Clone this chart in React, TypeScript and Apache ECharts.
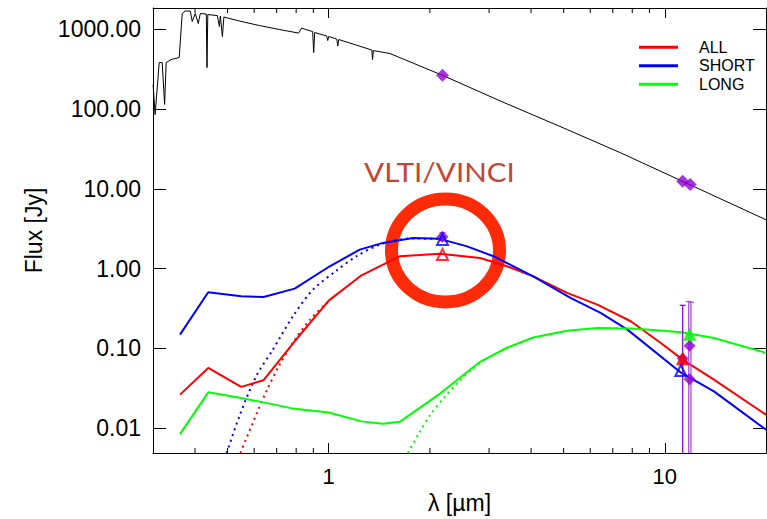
import React, { useEffect, useRef } from "react";
import * as echarts from "echarts";

// Stellar photosphere model (wavelength in µm, flux in Jy)
const photosphere: [number, number][] = [
  [0.3002, 202], [0.3044, 85], [0.313, 381], [0.3195, 381], [0.3249, 114], [0.3283, 381],
  [0.3398, 416], [0.359, 441], [0.3665, 1569], [0.3741, 1686], [0.3873, 1686], [0.3926, 1245],
  [0.4008, 1569], [0.4091, 1175], [0.4148, 1569], [0.4322, 1546], [0.4343, 330], [0.4367, 1524],
  [0.4663, 1480], [0.4727, 1078], [0.476, 1459], [0.4826, 808], [0.4876, 1418], [0.5423, 1263],
  [0.6223, 1109], [0.7141, 988], [0.8137, 893], [0.8308, 1032], [0.8535, 988], [0.8958, 933],
  [0.9021, 509], [0.9083, 907], [0.9864, 820], [0.9931, 720], [1.0, 808], [1.0565, 751],
  [1.0638, 614], [1.0712, 741], [1.344, 547], [1.35, 416], [1.358, 539], [1.521, 495],
  [2.189, 262], [3.239, 126], [5.125, 55.2], [7.39, 28.2], [11.29, 12.4], [20.16, 4.03],
];

// Model fits: total emission
const allFit: [number, number][] = [
  [0.361, 0.0264], [0.438, 0.057], [0.549, 0.033], [0.64, 0.04], [0.792, 0.123], [1.0, 0.397],
  [1.252, 0.824], [1.63, 1.43], [2.14, 1.54], [2.82, 1.36], [3.39, 1.07], [4.06, 0.8],
  [5.12, 0.496], [6.3, 0.354], [7.92, 0.219], [9.73, 0.117], [11.3, 0.0724], [14.0, 0.0406],
  [20.0, 0.0148],
];
const shortFit: [number, number][] = [
  [0.361, 0.149], [0.438, 0.505], [0.549, 0.45], [0.64, 0.442], [0.792, 0.561], [1.007, 1.07],
  [1.237, 1.73], [1.45, 2.1], [1.78, 2.42], [2.14, 2.36], [2.58, 1.9], [3.09, 1.43],
  [4.06, 0.8], [5.24, 0.43], [6.44, 0.279], [7.74, 0.172], [11.2, 0.0493], [14.0, 0.029],
  [20.0, 0.0096],
];
const longFit: [number, number][] = [
  [0.361, 0.00844], [0.438, 0.0282], [0.549, 0.0239], [0.64, 0.0211], [0.792, 0.0175],
  [1.0, 0.0158], [1.252, 0.0122], [1.45, 0.0114], [1.63, 0.0121], [2.14, 0.027], [2.82, 0.068],
  [3.39, 0.102], [4.06, 0.137], [5.12, 0.167], [6.3, 0.18], [7.92, 0.178], [9.73, 0.168],
  [11.3, 0.158], [14.0, 0.135], [20.0, 0.088],
];

// Dust-only components (dotted)
const allDust: [number, number][] = [
  [0.546, 0.0049], [0.594, 0.0116], [0.652, 0.029], [0.714, 0.0626], [0.782, 0.118],
  [0.88, 0.23], [1.0, 0.39],
];
const shortDust: [number, number][] = [
  [0.497, 0.0049], [0.542, 0.0141], [0.608, 0.0447], [0.682, 0.0966], [0.782, 0.252],
  [0.898, 0.546], [1.054, 0.944], [1.21, 1.43], [1.42, 2.0], [1.74, 2.38], [2.14, 2.36],
];
const longDust: [number, number][] = [
  [1.72, 0.0049], [1.85, 0.0085], [2.0, 0.0145], [2.2, 0.024], [2.45, 0.039], [2.7, 0.057],
  [2.9, 0.072],
];

// Photometry
const modelPhot: [number, number][] = [[2.18, 265], [11.3, 12.4], [11.9, 11.3]];
const measured: [number, number][] = [[2.18, 2.5], [11.3, 0.075], [11.85, 0.108], [11.85, 0.041]];
const errorBars: [number, number, number][] = [
  [2.18, 2.25, 2.8], [11.3, 0.001, 0.347], [11.78, 0.001, 0.386], [11.96, 0.001, 0.38],
];
const errorBarColors = ["#8a10d0", "#8a10d0", "#a650e2", "#a650e2"];
const allPoints: [number, number][] = [[2.18, 1.5], [11.3, 0.074]];
const shortPoints: [number, number][] = [[2.18, 2.31], [11.16, 0.053]];
const longPoints: [number, number][] = [[11.85, 0.149]];

const xMinorTicks = [0.4, 0.5, 0.6, 0.7, 0.8, 0.9, 2, 3, 4, 5, 6, 7, 8, 9];
const legendNames = ["ALL", "SHORT", "LONG"];

const RED = "#ff0000";
const BLUE = "#0000ff";
const GREEN = "#00ff00";
const PURPLE = "#9000d4";
const FONT = '"Liberation Sans", Arial, Helvetica, sans-serif';

const X_MIN = 0.3;
const X_MAX = 20;
const Y_MIN = 0.0049;
const Y_MAX = 1840;

const axisLine = { show: true, onZero: false, lineStyle: { color: "#000", width: 1 } };

function fitLine(name: string, data: [number, number][], color: string) {
  return {
    name, type: "line", data, showSymbol: false, symbol: "none", clip: true, z: 3,
    itemStyle: { color }, lineStyle: { color, width: 2 },
  };
}
function dustLine(name: string, data: [number, number][], color: string) {
  return {
    name, type: "line", data, showSymbol: false, symbol: "none", clip: true, z: 3, smooth: 0.3,
    itemStyle: { color }, lineStyle: { color, width: 2, type: [2, 4] },
  };
}
function triangles(name: string, data: [number, number][], color: string, filled: boolean[]) {
  return {
    name, type: "scatter", z: 6, symbol: "triangle", symbolSize: 11,
    data: data.map((d, i) => ({
      value: d,
      itemStyle: filled[i]
        ? { color, borderColor: color, borderWidth: 1.5 }
        : { color: "rgba(255,255,255,0)", borderColor: color, borderWidth: 2 },
    })),
  };
}

const option: any = {
  animation: false,
  backgroundColor: "#ffffff",
  textStyle: { fontFamily: FONT },
  grid: { left: 153, top: 8, width: 613, height: 445, containLabel: false, outerBoundsMode: "none" },
  legend: {
    data: legendNames, orient: "vertical", left: 639, top: 38, padding: 0, icon: "rect",
    itemWidth: 39, itemHeight: 3, itemGap: 0, selectedMode: false,
    textStyle: { fontSize: 16, color: "#000", fontFamily: FONT, lineHeight: 18.5, padding: [0, 0, 0, 16] },
  },
  xAxis: [
    {
      type: "log", logBase: 10, min: X_MIN, max: X_MAX, position: "bottom",
      axisLine, axisTick: { show: true, inside: true, length: 10, lineStyle: { color: "#000", width: 1 } },
      axisLabel: {
        show: true, color: "#000", fontSize: 22, fontFamily: FONT, margin: 12,
        showMinLabel: false, showMaxLabel: false,
        formatter: (v: number) => String(Math.round(v)),
      },
      splitLine: { show: false }, minorTick: { show: false },
      name: "λ [µm]", nameLocation: "middle", nameGap: 35,
      nameTextStyle: { color: "#000", fontSize: 23, fontFamily: FONT },
    },
    {
      type: "log", logBase: 10, min: X_MIN, max: X_MAX, position: "top",
      axisLine, axisTick: { show: true, inside: true, length: 10, lineStyle: { color: "#000", width: 1 } },
      axisLabel: { show: false }, splitLine: { show: false },
    },
  ],
  yAxis: [
    {
      type: "log", logBase: 10, min: Y_MIN, max: Y_MAX, position: "left",
      axisLine, axisTick: { show: true, inside: true, length: 13, lineStyle: { color: "#000", width: 1 } },
      axisLabel: {
        show: true, color: "#000", fontSize: 23, fontFamily: FONT, margin: 12,
        showMinLabel: false, showMaxLabel: false,
        formatter: (v: number) => v.toFixed(2),
      },
      splitLine: { show: false },
      name: "Flux [Jy]", nameLocation: "middle", nameGap: 108, nameRotate: 90,
      nameTextStyle: { color: "#000", fontSize: 23, fontFamily: FONT },
    },
    {
      type: "log", logBase: 10, min: Y_MIN, max: Y_MAX, position: "right",
      axisLine, axisTick: { show: true, inside: true, length: 13, lineStyle: { color: "#000", width: 1 } },
      axisLabel: { show: false }, splitLine: { show: false },
    },
  ],
  series: [
    {
      name: "minor ticks", type: "custom", silent: true, z: 5,
      data: xMinorTicks.map((v) => [v, 1]),
      renderItem: (params: any, api: any) => {
        const cs = params.coordSys;
        const x = api.coord([api.value(0), 1])[0];
        const bottom = cs.y + cs.height;
        const st = { stroke: "#000", lineWidth: 1 };
        return {
          type: "group",
          children: [
            { type: "line", shape: { x1: x, y1: bottom, x2: x, y2: bottom - 5 }, style: st },
            { type: "line", shape: { x1: x, y1: cs.y, x2: x, y2: cs.y + 5 }, style: st },
          ],
        };
      },
    },
    {
      name: "photosphere", type: "line", data: photosphere, showSymbol: false, symbol: "none",
      clip: true, z: 2, lineStyle: { color: "#000", width: 1 }, itemStyle: { color: "#000" },
    },
    dustLine("ALL dust", allDust, RED),
    dustLine("SHORT dust", shortDust, BLUE),
    dustLine("LONG dust", longDust, GREEN),
    fitLine("ALL", allFit, RED),
    fitLine("SHORT", shortFit, BLUE),
    fitLine("LONG", longFit, GREEN),
    {
      name: "error bars", type: "custom", silent: true, z: 4,
      data: errorBars,
      renderItem: (params: any, api: any) => {
        const cs = params.coordSys;
        const x = api.value(0);
        const top = api.coord([x, api.value(2)]);
        const bot = api.coord([x, api.value(1)]);
        const bottom = cs.y + cs.height;
        const yb = Math.min(bot[1], bottom);
        const color = errorBarColors[params.dataIndex];
        const st = { stroke: color, lineWidth: 1.3 };
        const children: any[] = [
          { type: "line", shape: { x1: top[0], y1: top[1], x2: top[0], y2: yb }, style: st },
          { type: "line", shape: { x1: top[0] - 3, y1: top[1], x2: top[0] + 3, y2: top[1] }, style: st },
        ];
        if (bot[1] <= bottom) {
          children.push({ type: "line", shape: { x1: bot[0] - 3, y1: bot[1], x2: bot[0] + 3, y2: bot[1] }, style: st });
        }
        return { type: "group", children };
      },
    },
    {
      name: "model photometry", type: "scatter", z: 5, symbol: "diamond", symbolSize: 13,
      data: modelPhot, itemStyle: { color: PURPLE },
    },
    {
      name: "measured", type: "scatter", z: 5, symbol: "diamond", symbolSize: 12,
      data: measured, itemStyle: { color: PURPLE },
    },
    triangles("ALL points", allPoints, RED, [false, true]),
    triangles("SHORT points", shortPoints, BLUE, [false, false]),
    triangles("LONG points", longPoints, GREEN, [true]),
  ],
  graphic: [
    {
      type: "ellipse", z: 1, silent: true,
      shape: { cx: 445.5, cy: 250.5, rx: 54, ry: 51.5 },
      style: { fill: "none", stroke: "#fe2b08", lineWidth: 13 },
    },
    {
      type: "text", z: 10, silent: true, x: 439.5, y: 172, scaleX: 1.14, scaleY: 1,
      style: {
        text: "VLTI/VINCI", x: 0, y: 0, fill: "#c04638",
        font: '26px "Lato", "Open Sans", sans-serif', align: "center", verticalAlign: "middle",
      },
    },
  ],
};

export default function App() {
  const ref = useRef<HTMLDivElement>(null);
  useEffect(() => {
    if (!ref.current) return;
    const chart = echarts.init(ref.current, undefined, { renderer: "svg" });
    chart.setOption(option);
    return () => chart.dispose();
  }, []);
  return (
    <div
      ref={ref}
      style={{ position: "absolute", left: 0, top: 0, width: 767, height: 519, background: "#fff" }}
    />
  );
}
